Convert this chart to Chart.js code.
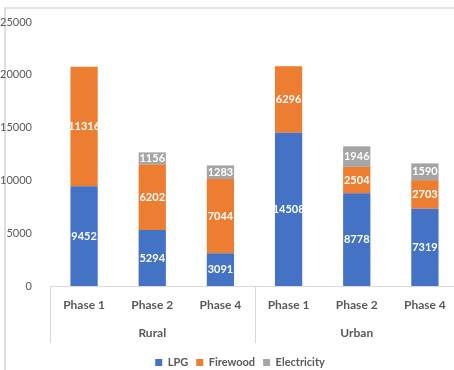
<!DOCTYPE html>
<html>
<head>
<meta charset="utf-8">
<script src="https://cdn.jsdelivr.net/npm/chart.js@4/dist/chart.umd.min.js"></script>
<style>
  html, body { margin: 0; padding: 0; background: #fff; overflow: hidden; }
  #frame {
    position: absolute; left: 4px; top: 7px; width: 460px; height: 380px;
    border-left: 2px solid #dedede; border-top: 2px solid #e4e4e4;
  }
  #wrap { position: absolute; left: 0; top: 0; width: 480px; height: 378px; }
</style>
</head>
<body>
<div id="frame"></div>
<div id="wrap"><canvas id="chartFuel"></canvas></div>
<script>
// categories (two levels: phase under area)
const PHASES = ['Phase 1', 'Phase 2', 'Phase 4', 'Phase 1', 'Phase 2', 'Phase 4'];
const GROUPS = [
  { name: 'Rural', from: 0, to: 2 },
  { name: 'Urban', from: 3, to: 5 }
];

// series values
const LPG = [9452, 5294, 3091, 14508, 8778, 7319];
const FIREWOOD = [11316, 6202, 7044, 6296, 2504, 2703];
const ELECTRICITY = [null, 1156, 1283, null, 1946, 1590];

// y axis ticks
const Y_MIN = 0;
const Y_MAX = 25000;
const Y_STEP = 5000;

const FONT = 'Lato, "Open Sans", sans-serif';
const TEXT = '#595959';

// white value labels in the middle of each segment
const valueLabels = {
  id: 'valueLabels',
  afterDatasetsDraw(chart) {
    const ctx = chart.ctx;
    ctx.save();
    ctx.font = 'bold 11px ' + FONT;
    ctx.fillStyle = '#ffffff';
    ctx.textAlign = 'center';
    ctx.textBaseline = 'middle';
    chart.data.datasets.forEach((ds, di) => {
      const meta = chart.getDatasetMeta(di);
      if (meta.hidden) return;
      meta.data.forEach((bar, i) => {
        const v = ds.data[i];
        if (v == null || v === 0) return;
        ctx.fillText(String(v), bar.x, (bar.y + bar.base) / 2);
      });
    });
    ctx.restore();
  }
};

// second row of category labels + divider lines
const groupAxis = {
  id: 'groupAxis',
  afterDraw(chart) {
    const x = chart.scales.x;
    const ctx = chart.ctx;
    const step = x.getPixelForValue(1) - x.getPixelForValue(0);
    const top = chart.chartArea.bottom;
    ctx.save();
    ctx.strokeStyle = '#d9d9d9';
    ctx.lineWidth = 1;
    ctx.font = 'bold 12px ' + FONT;
    ctx.fillStyle = TEXT;
    ctx.textAlign = 'center';
    ctx.textBaseline = 'middle';
    GROUPS.forEach(g => {
      const left = Math.round(x.getPixelForValue(g.from) - step / 2) + 0.5;
      const right = Math.round(x.getPixelForValue(g.to) + step / 2) + 0.5;
      [left, right].forEach(px => {
        ctx.beginPath();
        ctx.moveTo(px, top);
        ctx.lineTo(px, top + 57);
        ctx.stroke();
      });
      const mid = (x.getPixelForValue(g.from) + x.getPixelForValue(g.to)) / 2;
      ctx.fillText(g.name, mid, top + 47);
    });
    ctx.restore();
  }
};

new Chart(document.getElementById('chartFuel'), {
  type: 'bar',
  data: {
    labels: PHASES,
    datasets: [
      { label: 'LPG', data: LPG, backgroundColor: '#4472c4' },
      { label: 'Firewood', data: FIREWOOD, backgroundColor: '#ed7d31' },
      { label: 'Electricity', data: ELECTRICITY, backgroundColor: '#a5a5a5' }
    ]
  },
  options: {
    responsive: true,
    maintainAspectRatio: false,
    animation: false,
    datasets: { bar: { categoryPercentage: 1, barPercentage: 0.4 } },
    layout: { padding: { left: 0, right: 0, top: 22, bottom: 0 } },
    scales: {
      x: {
        stacked: true,
        grid: { display: false, drawTicks: false },
        border: { display: true, color: '#d9d9d9' },
        ticks: { color: TEXT, font: { family: FONT, size: 12, weight: 'bold' }, padding: 12 },
        afterFit: s => { s.height = 63; }
      },
      y: {
        stacked: true,
        min: Y_MIN,
        max: Y_MAX,
        grid: { display: false },
        border: { display: false },
        ticks: {
          stepSize: Y_STEP,
          color: TEXT,
          font: { family: FONT, size: 11 },
          padding: 10,
          callback: v => String(v)
        },
        afterFit: s => { s.width = 50; }
      },
      // empty strip on the right so the plot runs past the window edge
      yRight: {
        position: 'right',
        grid: { display: false },
        border: { display: false },
        ticks: { display: false },
        afterFit: s => { s.width = 21; }
      }
    },
    plugins: {
      legend: {
        position: 'bottom',
        labels: {
          color: TEXT,
          font: { family: FONT, size: 11, weight: 'bold' },
          boxWidth: 7,
          boxHeight: 7,
          padding: 8
        }
      },
      tooltip: { enabled: false }
    }
  },
  plugins: [valueLabels, groupAxis]
});
</script>
</body>
</html>
